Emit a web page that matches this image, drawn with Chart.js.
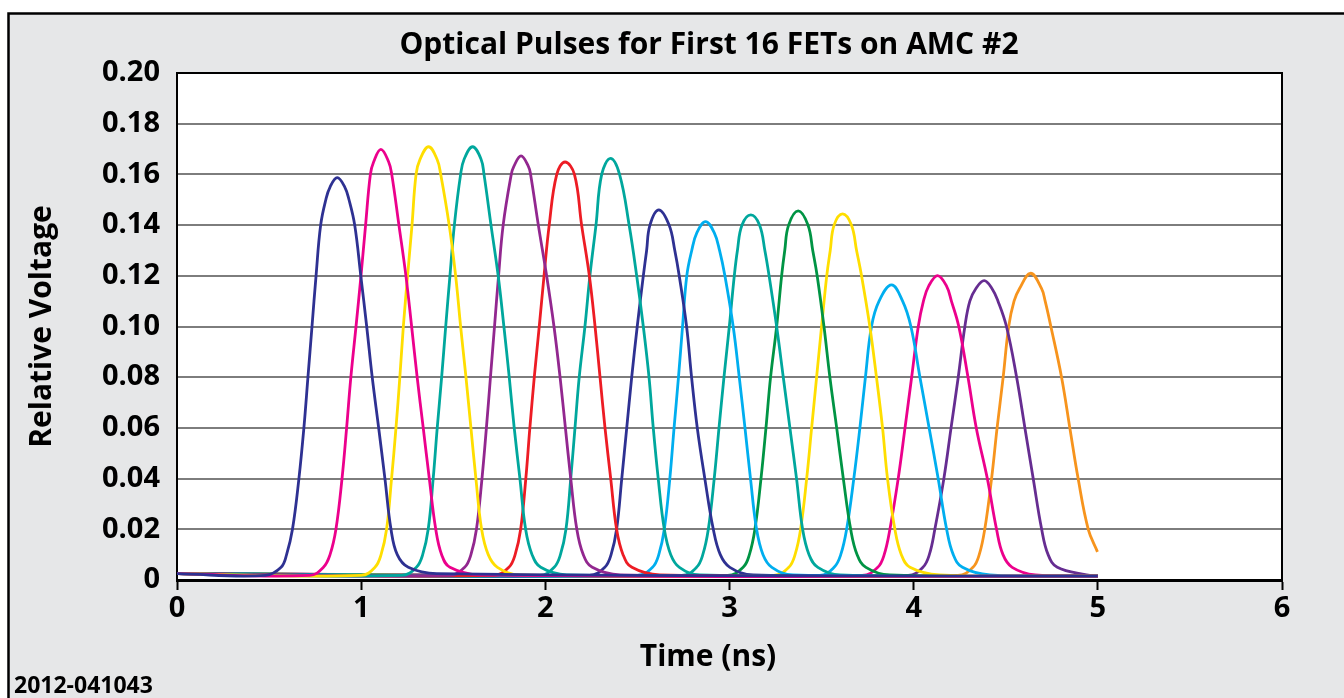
<!DOCTYPE html>
<html>
<head>
<meta charset="utf-8">
<title>Optical Pulses for First 16 FETs on AMC #2</title>
<script src="https://cdn.jsdelivr.net/npm/chart.js@4.4.0/dist/chart.umd.min.js"></script>
<style>
  html, body { margin: 0; padding: 0; background: #fff; }
  #wrap { width: 1344px; height: 698px; }
</style>
</head>
<body>
<div id="wrap"><canvas id="pulses" width="1344" height="698"></canvas></div>
<script>
// values: time in ns, relative voltage
const pulseLabels = ['FET 1', 'FET 2', 'FET 3', 'FET 4', 'FET 5', 'FET 6', 'FET 7', 'FET 8',
                     'FET 9', 'FET 10', 'FET 11', 'FET 12', 'FET 13', 'FET 14', 'FET 15', 'FET 16'];

const pulseTime = [
  [0, 0.48, 0.565, 0.595, 0.627, 0.662, 0.689, 0.711, 0.733, 0.755, 0.780, 0.808, 0.831, 0.870, 0.911, 0.934, 0.965, 0.998, 1.030, 1.060, 1.095, 1.129, 1.162, 1.196, 1.256, 1.410, 5],
  [0, 0.72, 0.795, 0.831, 0.863, 0.896, 0.921, 0.944, 0.972, 0.999, 1.024, 1.050, 1.068, 1.107, 1.149, 1.166, 1.205, 1.243, 1.274, 1.304, 1.337, 1.370, 1.405, 1.437, 1.482, 1.645, 5],
  [0, 1.00, 1.075, 1.108, 1.138, 1.165, 1.189, 1.210, 1.229, 1.252, 1.276, 1.298, 1.320, 1.366, 1.412, 1.432, 1.478, 1.513, 1.540, 1.569, 1.596, 1.623, 1.654, 1.690, 1.740, 1.862, 5],
  [0, 1.22, 1.300, 1.334, 1.364, 1.391, 1.413, 1.437, 1.459, 1.482, 1.506, 1.540, 1.559, 1.605, 1.651, 1.667, 1.705, 1.744, 1.775, 1.804, 1.831, 1.862, 1.893, 1.928, 1.975, 2.116, 5],
  [0, 1.48, 1.562, 1.596, 1.626, 1.656, 1.680, 1.702, 1.724, 1.746, 1.771, 1.815, 1.828, 1.868, 1.909, 1.920, 1.962, 2.007, 2.047, 2.080, 2.109, 2.138, 2.171, 2.206, 2.255, 2.406, 5],
  [0, 1.72, 1.802, 1.836, 1.866, 1.894, 1.916, 1.940, 1.967, 1.993, 2.021, 2.062, 2.107, 2.158, 2.197, 2.239, 2.270, 2.297, 2.324, 2.355, 2.387, 2.422, 2.470, 2.622, 5],
  [0, 1.97, 2.048, 2.082, 2.112, 2.138, 2.161, 2.184, 2.215, 2.242, 2.275, 2.306, 2.354, 2.403, 2.455, 2.496, 2.532, 2.563, 2.586, 2.613, 2.646, 2.681, 2.728, 2.839, 5],
  [0, 2.24, 2.323, 2.357, 2.387, 2.415, 2.442, 2.469, 2.499, 2.532, 2.550, 2.568, 2.616, 2.672, 2.703, 2.727, 2.767, 2.794, 2.825, 2.866, 2.912, 2.950, 3.002, 3.129, 5],
  [0, 2.50, 2.582, 2.616, 2.646, 2.676, 2.699, 2.723, 2.745, 2.768, 2.795, 2.823, 2.870, 2.917, 2.946, 2.975, 3.020, 3.053, 3.084, 3.114, 3.147, 3.182, 3.230, 3.345, 5],
  [0, 2.74, 2.821, 2.855, 2.885, 2.917, 2.943, 2.970, 2.999, 3.026, 3.043, 3.068, 3.116, 3.163, 3.192, 3.215, 3.256, 3.292, 3.328, 3.364, 3.397, 3.432, 3.480, 3.600, 5],
  [0, 2.99, 3.074, 3.108, 3.138, 3.171, 3.198, 3.223, 3.256, 3.283, 3.300, 3.321, 3.373, 3.426, 3.452, 3.476, 3.513, 3.545, 3.582, 3.618, 3.658, 3.693, 3.741, 3.870, 5],
  [0, 3.24, 3.322, 3.356, 3.386, 3.419, 3.446, 3.473, 3.500, 3.528, 3.547, 3.568, 3.614, 3.662, 3.690, 3.717, 3.762, 3.798, 3.831, 3.858, 3.898, 3.933, 3.980, 4.140, 5],
  [0, 3.49, 3.568, 3.604, 3.636, 3.675, 3.708, 3.738, 3.771, 3.812, 3.880, 3.940, 3.985, 4.034, 4.084, 4.133, 4.179, 4.215, 4.265, 4.414, 5],
  [0, 3.72, 3.805, 3.840, 3.871, 3.916, 3.953, 3.989, 4.025, 4.053, 4.082, 4.130, 4.178, 4.205, 4.245, 4.295, 4.340, 4.400, 4.450, 4.485, 4.535, 4.660, 5],
  [0, 3.97, 4.050, 4.085, 4.115, 4.164, 4.203, 4.242, 4.278, 4.305, 4.338, 4.383, 4.425, 4.458, 4.504, 4.559, 4.604, 4.649, 4.695, 4.730, 4.780, 4.939, 5],
  [0, 4.24, 4.322, 4.356, 4.386, 4.423, 4.453, 4.486, 4.516, 4.545, 4.575, 4.635, 4.694, 4.714, 4.745, 4.803, 4.848, 4.893, 4.948, 4.998]
];

const pulseVolt = [
  [0.0025, 0.0018, 0.005, 0.01, 0.02, 0.04, 0.06, 0.08, 0.10, 0.12, 0.14, 0.15, 0.155, 0.1587, 0.155, 0.15, 0.14, 0.12, 0.10, 0.08, 0.06, 0.04, 0.02, 0.01, 0.005, 0.0025, 0.0015],
  [0.0025, 0.0018, 0.005, 0.01, 0.02, 0.04, 0.06, 0.08, 0.10, 0.12, 0.14, 0.16, 0.165, 0.1699, 0.165, 0.16, 0.14, 0.12, 0.10, 0.08, 0.06, 0.04, 0.02, 0.01, 0.005, 0.002, 0.0015],
  [0.0025, 0.0018, 0.005, 0.01, 0.02, 0.04, 0.06, 0.08, 0.10, 0.12, 0.14, 0.16, 0.166, 0.1709, 0.166, 0.16, 0.14, 0.12, 0.10, 0.08, 0.06, 0.04, 0.02, 0.01, 0.005, 0.002, 0.0015],
  [0.0025, 0.0018, 0.005, 0.01, 0.02, 0.04, 0.06, 0.08, 0.10, 0.12, 0.14, 0.16, 0.166, 0.1709, 0.166, 0.16, 0.14, 0.12, 0.10, 0.08, 0.06, 0.04, 0.02, 0.01, 0.005, 0.002, 0.0015],
  [0.0025, 0.0018, 0.005, 0.01, 0.02, 0.04, 0.06, 0.08, 0.10, 0.12, 0.14, 0.16, 0.163, 0.1673, 0.163, 0.16, 0.14, 0.12, 0.10, 0.08, 0.06, 0.04, 0.02, 0.01, 0.005, 0.002, 0.0015],
  [0.0025, 0.0018, 0.005, 0.01, 0.02, 0.04, 0.06, 0.08, 0.10, 0.12, 0.14, 0.16, 0.1649, 0.16, 0.14, 0.12, 0.10, 0.08, 0.06, 0.04, 0.02, 0.01, 0.005, 0.002, 0.0015],
  [0.0025, 0.0018, 0.005, 0.01, 0.02, 0.04, 0.06, 0.08, 0.10, 0.12, 0.14, 0.16, 0.1663, 0.16, 0.14, 0.12, 0.10, 0.08, 0.06, 0.04, 0.02, 0.01, 0.005, 0.002, 0.0015],
  [0.0025, 0.0018, 0.005, 0.01, 0.02, 0.04, 0.06, 0.08, 0.10, 0.12, 0.13, 0.14, 0.1460, 0.14, 0.13, 0.12, 0.10, 0.08, 0.06, 0.04, 0.02, 0.01, 0.005, 0.002, 0.0015],
  [0.0025, 0.0018, 0.005, 0.01, 0.02, 0.04, 0.06, 0.08, 0.10, 0.12, 0.13, 0.137, 0.1414, 0.137, 0.13, 0.12, 0.10, 0.08, 0.06, 0.04, 0.02, 0.01, 0.005, 0.002, 0.0015],
  [0.0025, 0.0018, 0.005, 0.01, 0.02, 0.04, 0.06, 0.08, 0.10, 0.12, 0.13, 0.14, 0.1440, 0.14, 0.13, 0.12, 0.10, 0.08, 0.06, 0.04, 0.02, 0.01, 0.005, 0.002, 0.0015],
  [0.0025, 0.0018, 0.005, 0.01, 0.02, 0.04, 0.06, 0.08, 0.10, 0.12, 0.13, 0.14, 0.1456, 0.14, 0.13, 0.12, 0.10, 0.08, 0.06, 0.04, 0.02, 0.01, 0.005, 0.002, 0.0015],
  [0.0025, 0.0018, 0.005, 0.01, 0.02, 0.04, 0.06, 0.08, 0.10, 0.12, 0.13, 0.14, 0.1444, 0.14, 0.13, 0.12, 0.10, 0.08, 0.06, 0.04, 0.02, 0.01, 0.005, 0.002, 0.0015],
  [0.0025, 0.0018, 0.005, 0.01, 0.02, 0.04, 0.06, 0.08, 0.10, 0.11, 0.1164, 0.11, 0.10, 0.08, 0.06, 0.04, 0.02, 0.01, 0.005, 0.002, 0.0015],
  [0.0025, 0.0018, 0.005, 0.01, 0.02, 0.04, 0.06, 0.08, 0.10, 0.11, 0.116, 0.1201, 0.116, 0.11, 0.10, 0.08, 0.06, 0.04, 0.02, 0.01, 0.005, 0.002, 0.0015],
  [0.0025, 0.0018, 0.005, 0.01, 0.02, 0.04, 0.06, 0.08, 0.10, 0.11, 0.115, 0.1181, 0.115, 0.11, 0.10, 0.08, 0.06, 0.04, 0.02, 0.01, 0.005, 0.002, 0.0015],
  [0.0025, 0.0018, 0.005, 0.01, 0.02, 0.04, 0.06, 0.08, 0.10, 0.11, 0.115, 0.1210, 0.115, 0.11, 0.10, 0.08, 0.06, 0.04, 0.02, 0.0111]
];

const xTickLabels = ['0', '1', '2', '3', '4', '5', '6'];
const yTickLabels = ['0', '0.02', '0.04', '0.06', '0.08', '0.10', '0.12', '0.14', '0.16', '0.18', '0.20'];

const pulseColors = ['#2e3192', '#ec008c', '#ffde00', '#00a79d', '#92278f', '#ed1c24', '#00a79d', '#2e3192',
                     '#00aeef', '#00a79d', '#009444', '#ffde00', '#00aeef', '#ec008c', '#662d91', '#f7941d'];

const FONT = '"Open Sans", "Noto Sans", sans-serif';

const datasets = pulseTime.map(function (times, i) {
    return {
        label: pulseLabels[i],
        data: times.map(function (t, j) { return {x: t, y: pulseVolt[i][j]}; }),
        borderColor: pulseColors[i],
        borderWidth: 2.8,
        pointRadius: 0,
        fill: false,
        tension: 0.4
    };
});

// grey panel, outer border, white plot area, frame, title, x label, figure number
const panel = {
    id: 'panel',
    beforeDraw(chart) {
        const {ctx, chartArea: a, width, height} = chart;
        ctx.save();
        ctx.fillStyle = '#ffffff';
        ctx.fillRect(0, 0, width, height);
        ctx.fillStyle = '#e6e7e8';
        ctx.fillRect(8, 13, width, height);
        ctx.strokeStyle = '#000';
        ctx.lineWidth = 2.5;
        ctx.strokeRect(8.5, 13.5, width + 20, height + 20);
        ctx.fillStyle = '#ffffff';
        ctx.fillRect(a.left, a.top, a.right - a.left, a.bottom - a.top);
        ctx.restore();
    },
    afterDraw(chart) {
        const {ctx, chartArea: a} = chart;
        ctx.save();
        ctx.strokeStyle = '#000';
        ctx.lineWidth = 2;
        ctx.beginPath();
        ctx.moveTo(a.left, a.top);
        ctx.lineTo(a.right, a.top);
        ctx.lineTo(a.right, a.bottom);
        ctx.stroke();

        ctx.fillStyle = '#000';
        ctx.textBaseline = 'middle';
        ctx.textAlign = 'center';
        ctx.font = 'bold 30px ' + FONT;
        ctx.fillText('Optical Pulses for First 16 FETs on AMC #2', 709, 45);
        ctx.fillText('Time (ns)', 708, 657);

        ctx.textAlign = 'left';
        ctx.font = 'bold 23px ' + FONT;
        ctx.fillText('2012-041043', 14, 686);
        ctx.restore();
    }
};

new Chart(document.getElementById('pulses'), {
    type: 'line',
    data: {datasets: datasets},
    plugins: [panel],
    options: {
        responsive: false,
        animation: false,
        layout: {padding: {top: 73, left: 0, right: 62, bottom: 0}},
        plugins: {
            legend: {display: false},
            tooltip: {enabled: false},
            title: {display: false}
        },
        scales: {
            x: {
                type: 'linear',
                min: 0,
                max: 6,
                afterFit(scale) { scale.height = 118; },
                ticks: {
                    stepSize: 1,
                    color: '#000',
                    padding: 1,
                    font: {family: FONT, size: 29, weight: 'bold'},
                    callback: function (v, i) { return xTickLabels[i]; }
                },
                grid: {
                    drawOnChartArea: false,
                    drawTicks: true,
                    tickLength: 10,
                    tickWidth: 2,
                    tickColor: '#000'
                },
                border: {color: '#000', width: 3}
            },
            y: {
                min: 0,
                max: 0.2,
                afterFit(scale) { scale.width = 177; },
                ticks: {
                    stepSize: 0.02,
                    color: '#000',
                    padding: 17,
                    font: {family: FONT, size: 29, weight: 'bold'},
                    callback: function (v, i) { return yTickLabels[i]; }
                },
                grid: {
                    color: '#7d7d7d',
                    lineWidth: 2,
                    drawTicks: false
                },
                border: {color: '#000', width: 2},
                title: {
                    display: true,
                    text: 'Relative Voltage',
                    color: '#000',
                    font: {family: FONT, size: 30, weight: 'bold', lineHeight: 1.2},
                    padding: {top: 24, bottom: 0}
                }
            }
        }
    }
});
</script>
</body>
</html>
